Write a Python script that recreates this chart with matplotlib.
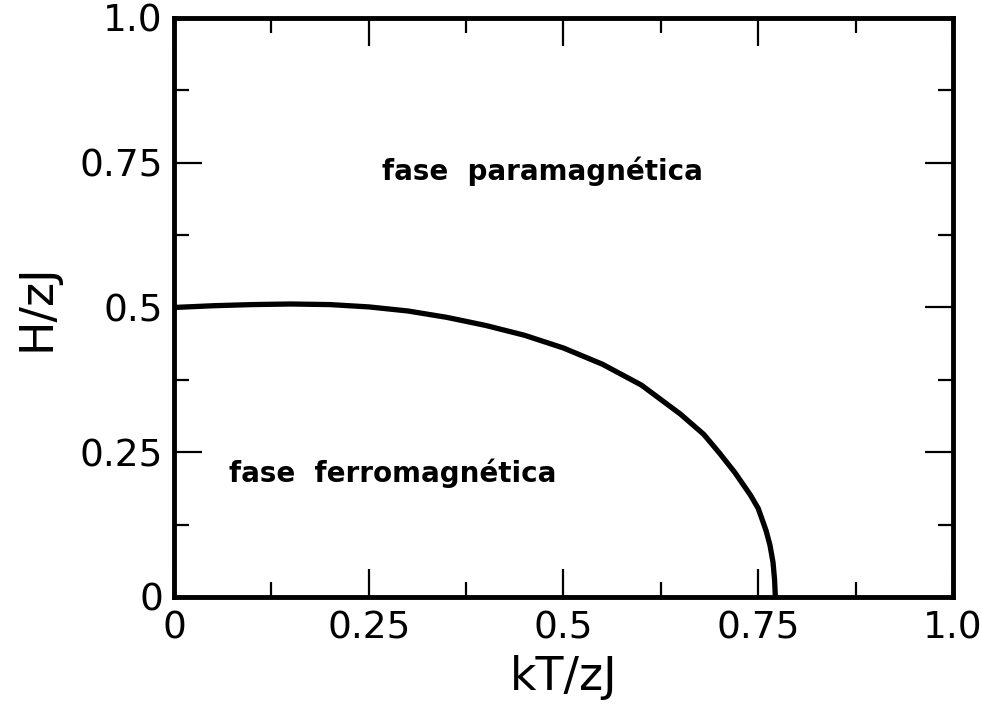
import matplotlib
matplotlib.use("Agg")
import matplotlib.pyplot as plt
from matplotlib.ticker import MultipleLocator, FixedFormatter, FixedLocator

# phase boundary
kT = [0.0, 0.05, 0.10, 0.15, 0.20, 0.25, 0.30, 0.35, 0.40, 0.45, 0.50,
      0.55, 0.60, 0.65, 0.68, 0.70, 0.72, 0.74, 0.75, 0.76, 0.765, 0.769,
      0.771, 0.772]
H = [0.500, 0.503, 0.505, 0.506, 0.505, 0.501, 0.494, 0.483, 0.469, 0.452,
     0.430, 0.402, 0.366, 0.316, 0.281, 0.249, 0.215, 0.176, 0.153, 0.115,
     0.090, 0.060, 0.030, 0.0]

ticks = [0, 0.25, 0.5, 0.75, 1.0]
tick_labels = ["0", "0.25", "0.5", "0.75", "1.0"]

fig = plt.figure(figsize=(9.81, 7.13), dpi=100)
ax = fig.add_axes([0.1774, 0.1627, 0.7940, 0.8121])

ax.plot(kT, H, color="black", lw=3.8, solid_joinstyle="round",
        solid_capstyle="butt")

ax.set_xlim(0, 1.0)
ax.set_ylim(0, 1.0)

for axis in (ax.xaxis, ax.yaxis):
    axis.set_major_locator(FixedLocator(ticks))
    axis.set_major_formatter(FixedFormatter(tick_labels))
    axis.set_minor_locator(MultipleLocator(0.125))

ax.tick_params(which="both", direction="in", top=True, right=True,
               width=1.6, color="black")
ax.tick_params(which="major", length=20)
ax.tick_params(which="minor", length=11)
ax.tick_params(axis="x", which="major", labelsize=27, pad=10)
ax.tick_params(axis="y", which="major", labelsize=27, pad=8)

for s in ax.spines.values():
    s.set_linewidth(3.5)

ax.set_xlabel("kT/zJ", fontsize=33, labelpad=6)
ax.set_ylabel("H/zJ", fontsize=33, labelpad=14)

ax.text(0.473, 0.735, "fase  paramagnética", fontsize=20, fontweight="bold",
        ha="center", va="center")
ax.text(0.281, 0.214, "fase  ferromagnética", fontsize=20, fontweight="bold",
        ha="center", va="center")

fig.savefig("out.png", dpi=100)
